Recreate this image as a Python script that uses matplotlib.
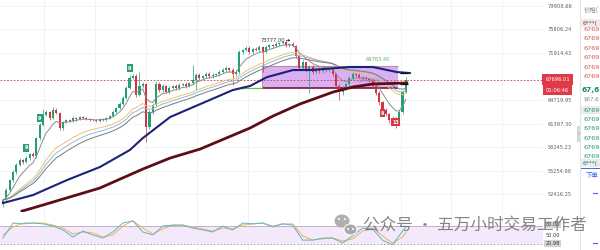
import numpy as np
import pandas as pd
import matplotlib
matplotlib.use("Agg")
import matplotlib.pyplot as plt
from matplotlib.patches import Rectangle, Ellipse
from matplotlib.transforms import blended_transform_factory
from matplotlib.ticker import FixedLocator, NullLocator, FixedFormatter

# ---------------- data ----------------
first_open = 51300
closes = [51770, 52930, 54120, 55110, 55980, 56600, 56350, 56850, 57360, 57110,
          59440, 61200, 62580, 63000, 62160, 63280, 62860, 60790, 61610, 61890,
          61750, 62160, 62020, 62300, 62160, 62020, 61890, 61850, 61750, 62020,
          61890, 62160, 62440, 63000, 63570, 64140, 65000, 66470, 67960, 68270,
          65440, 66770, 67070, 60920, 63000, 63990, 67070, 66170, 66770, 65870,
          66470, 66770, 66470, 66920, 67070, 66770, 67220, 67670, 68420, 67960,
          68270, 68580, 68270, 68420, 68580, 68880, 69190, 69500, 69190, 68580,
          68880, 72030, 72350, 72680, 72030, 72510, 72350, 72840, 72030, 72840,
          73160, 73000, 73330, 73490, 73660, 73160, 73330, 73000, 71390, 69500,
          70440, 69190, 69660, 68880, 69350, 69040, 69500, 69190, 69350, 68580,
          66770, 65870, 66470, 67070, 67960, 68580, 68420, 68110, 67960, 67810,
          67670, 66770, 65720, 64420, 63280, 62720, 61890, 62160, 61750, 63000,
          65870, 67696.01]
wick_up = [150, 200, 150, 250, 200, 300, 150, 200, 150, 250,
           200, 300, 900, 300, 200, 420, 250, 200, 150, 200,
           150, 250, 150, 200, 150, 150, 200, 150, 150, 200,
           150, 200, 150, 250, 200, 250, 300, 250, 400, 300,
           250, 2100, 300, 150, 250, 300, 400, 250, 300, 200,
           250, 200, 250, 300, 200, 250, 200, 2300, 300, 250,
           200, 250, 300, 250, 200, 250, 300, 250, 200, 250,
           300, 250, 200, 300, 250, 200, 300, 250, 200, 300,
           250, 200, 300, 250, 117, 250, 200, 250, 200, 250,
           300, 200, 250, 300, 200, 250, 300, 200, 250, 300,
           200, 250, 300, 200, 250, 300, 200, 250, 200, 250,
           200, 250, 200, 250, 200, 250, 200, 250, 200, 300,
           300, 440]
wick_dn = [300, 200, 150, 200, 250, 150, 200, 150, 200, 150,
           250, 200, 150, 200, 250, 200, 150, 300, 200, 150,
           200, 150, 200, 150, 200, 150, 200, 150, 200, 150,
           200, 150, 200, 150, 200, 150, 200, 150, 200, 150,
           300, 200, 250, 2000, 300, 250, 200, 300, 250, 200,
           250, 200, 300, 250, 200, 250, 200, 300, 1500, 250,
           200, 250, 300, 250, 200, 250, 200, 300, 250, 1660,
           250, 300, 250, 200, 300, 250, 200, 250, 3150, 200,
           250, 300, 200, 250, 200, 300, 250, 200, 300, 250,
           300, 250, 3470, 300, 250, 300, 250, 300, 250, 300,
           300, 1160, 400, 300, 250, 300, 250, 200, 250, 200,
           250, 300, 300, 400, 300, 300, 400, 700, 960, 300,
           300, 200]

ema_spans = [7, 21, 25, 30]

navy_idx = [0, 9, 19.2, 29.1, 38.1, 42, 50.2, 60, 69, 74.2, 79.3, 87.1, 92.2, 104.2, 111.1, 118.3, 122.2]
navy_val = [51420, 52340, 54120, 55720, 57880, 59440, 62300, 64280, 66165, 66770, 68110,
            69190, 69190, 69660, 69660, 68880, 68730]
maroon_idx = [5.7, 12, 29.1, 42, 50.2, 59.2, 74.2, 81.1, 89.2, 99.1, 105.1, 111.1, 121.3]
maroon_val = [50500, 51190, 53170, 55470, 56850, 58000, 60790, 62440, 64140, 65870, 66620, 67070, 67220]

price_ticks = [79908.66, 75806.24, 71914.43, 64719.95, 61397.30, 58245.23, 55254.98, 52416.25]
last_price = 67696.01
countdown = "01:06:46"
zone_top, zone_bot = 69763.45, 66473.85
zone_start, zone_end = 77.8, 118.6
support_start = 70.3
peak_label = "73777.00"

td_green_idx = [7, 11, 38]
td_green_val = [58150, 62160, 69500]
td_red_idx = [114, 118]
td_red_val = [62860, 61610]
td_red_txt = ["9", "13"]

rsi_idx = [0, 3, 6, 9, 12, 15, 18, 21, 24, 27, 30, 33, 36, 39, 42, 45, 48, 51, 54, 57, 60,
           63, 66, 69, 72, 75, 78, 81, 84, 87, 90, 93, 96, 99, 102, 105, 108, 111, 114, 117, 120, 121]
rsi_k = [40, 90, 87, 90, 87, 80, 67, 43, 63, 50, 40, 60, 90, 97, 60, 50, 80, 83, 83, 73,
         67, 60, 80, 67, 90, 87, 90, 77, 87, 83, 33, 33, 40, 40, 23, 47, 73, 70, 33, 17, 63, 77]
rsi_d = [50, 77, 90, 90, 90, 83, 73, 53, 60, 57, 43, 50, 80, 97, 73, 53, 70, 83, 83, 77,
         70, 63, 73, 70, 83, 87, 90, 80, 87, 87, 47, 33, 37, 40, 30, 37, 63, 73, 47, 23, 43, 60]
rsi_levels = [80, 50, 20]
rsi_tags = ["80.00", "50.00", "20.98"]
rsi_tag_vals = [85, 50, 20.98]

asks = ["6769", "6769", "6769", "6769", "6769", "6769"]
bids = ["6769", "6769", "6769", "6769", "6769", "6769"]

# ---------------- style ----------------
GREEN = "#22a072"
RED = "#cf3444"
CJK = ["Noto Sans CJK SC", "DejaVu Sans"]
plt.rcParams["font.family"] = ["DejaVu Sans", "Noto Sans CJK SC"]

fig = plt.figure(figsize=(6, 2.5), dpi=100, facecolor="white")
ax = fig.add_axes([0, 0.152, 0.905, 0.848])
axr = fig.add_axes([0, 0.0, 0.905, 0.152], sharex=ax)

n = len(closes)
x = np.arange(n)
o = np.array([first_open] + closes[:-1], float)
c = np.array(closes, float)
hi = np.maximum(o, c) + np.array(wick_up)
lo = np.minimum(o, c) - np.array(wick_dn)
cols = np.where(c >= o, GREEN, RED)

ax.set_yscale("log")
ax.set_xlim(-0.9, 162.2)
ax.set_ylim(50400, 80900)

# grid
grid_x = [12.3, 27.6, 42.9, 58.2, 73.5, 88.8, 104.1, 119.4, 134.7, 150.0]
for a in (ax, axr):
    a.xaxis.set_major_locator(FixedLocator(grid_x))
    a.tick_params(axis="x", length=0, labelbottom=False)
    a.grid(True, axis="x", color="#eef0f4", lw=0.6)
    for s in a.spines.values():
        s.set_visible(False)
ax.yaxis.set_major_locator(FixedLocator(price_ticks))
ax.yaxis.set_minor_locator(NullLocator())
ax.yaxis.set_major_formatter(FixedFormatter([f"{p:.2f}" for p in price_ticks]))
ax.yaxis.tick_right()
ax.tick_params(axis="y", length=0, pad=3.6, labelsize=3.7, labelcolor="#5d606b")
ax.grid(True, axis="y", color="#f1f2f5", lw=0.6)

# zone
ax.fill_between([zone_start, zone_end], zone_bot, zone_top, color="#dab0f3", lw=0, zorder=2)
ax.hlines(zone_top, zone_start, zone_end, color="#c58aa3", lw=0.8, zorder=3)
ax.hlines(zone_bot, zone_start, zone_end, color="#7a1533", lw=1.2, zorder=3)
ax.vlines(zone_start, zone_bot, zone_top, color="#c58aa3", lw=0.6, zorder=3)
ax.hlines(zone_bot, support_start, zone_start, color="#6cc04a", lw=0.9, zorder=3)

# current price line
ax.axhline(last_price, color="#b8414d", lw=0.6, ls=(0, (2, 2)), zorder=3)

# candles
ax.vlines(x, lo, hi, colors=cols, lw=0.5, zorder=5)
ax.bar(x, np.abs(c - o), bottom=np.minimum(o, c), width=0.62, color=cols, lw=0, zorder=5)

# moving averages
s = pd.Series(c)
ma_cols = ["#8d8d8d", "#f1c36a", "#8fb8e6", "#7a7a7a"]
for sp, mc in zip(ema_spans, ma_cols):
    ax.plot(x, s.ewm(span=sp, adjust=False).mean(), color=mc, lw=0.7, zorder=6)
ax.plot(navy_idx, navy_val, color="#1b2378", lw=1.5, zorder=6)
ax.plot(maroon_idx, maroon_val, color="#5e0d18", lw=2.0, zorder=6)

# end bracket
ax.hlines([68730, 67066], 119.2, 121.6, color="#111111", lw=0.9, zorder=7)

# labels
ax.text(77.3, 73985, peak_label, fontsize=3.7, color="#333333", va="center", ha="left", zorder=8)
ax.annotate("", xy=(87.2, 73930), xytext=(84.3, 73930),
            arrowprops=dict(arrowstyle="-|>", lw=0.5, color="#333333", mutation_scale=3), zorder=8)
ax.text(109, 70900, f"{zone_top:.2f}", fontsize=3.7, color="#5cb85c", va="center", ha="left", zorder=8)
ax.text(106.5, 67550, f"{zone_bot:.2f}", fontsize=3.7, color="#a786c2", va="center", ha="left", zorder=4)

for i, v in zip(td_green_idx, td_green_val):
    ax.text(i, v, "9", fontsize=3.6, color="white", fontweight="bold", ha="center", va="center", zorder=9,
            bbox=dict(boxstyle="square,pad=0.25", fc="#2f9e6e", ec="none"))
for i, v, t in zip(td_red_idx, td_red_val, td_red_txt):
    ax.text(i, v, t, fontsize=3.4, color="white", fontweight="bold", ha="center", va="center", zorder=9,
            bbox=dict(boxstyle="square,pad=0.25", fc="#d23a48", ec="none"))

# price tags
btr = blended_transform_factory(ax.transAxes, ax.transData)
ax.text(1.004, last_price, f"{last_price:.2f}", transform=btr, fontsize=3.7, color="white",
        ha="left", va="center", clip_on=False, zorder=10,
        bbox=dict(boxstyle="square,pad=0.55", fc="#e03a48", ec="none"))
ax.annotate(countdown, xy=(1.004, last_price), xycoords=btr, xytext=(0.6, -7.4), textcoords="offset points",
            fontsize=3.7, color="white", ha="left", va="center", annotation_clip=False, zorder=10,
            bbox=dict(boxstyle="square,pad=0.55", fc="#e03a48", ec="none"))

# RSI panel
axr.set_ylim(0, 126.7)
axr.set_yticks([])
axr.axhspan(rsi_levels[2], rsi_levels[0], color="#f4e8fb", lw=0, zorder=1)
axr.axhline(rsi_levels[0], color="#b9a8c8", lw=0.6, zorder=2)
axr.axhline(rsi_levels[2], color="#9a9a9a", lw=0.6, ls=(0, (2, 2)), zorder=2)
axr.plot(rsi_idx, rsi_d, color="#eab64e", lw=0.7, zorder=3)
axr.plot(rsi_idx, rsi_k, color="#5fb6c9", lw=0.7, zorder=4)
brr = blended_transform_factory(axr.transAxes, axr.transData)
for v, t in zip(rsi_tag_vals, rsi_tags):
    boxed = t != "50.00"
    axr.text(1.004, v, t, transform=brr, fontsize=3.6, color="#333333", ha="left", va="center",
             clip_on=False, zorder=10,
             bbox=dict(boxstyle="square,pad=0.2", fc="#d4d4d4", ec="none") if boxed else None)

# overlay: right panel + watermark
ov = fig.add_axes([0, 0, 1, 1])
ov.set_xlim(0, 600)
ov.set_ylim(250, 0)
ov.axis("off")
ov.patch.set_alpha(0)
ov.plot([580, 580], [0, 250], color="#e4e4e4", lw=0.8)
ov.add_patch(Rectangle((577, 126), 4, 16, fc="#d9d9d9", ec="none"))
ov.text(579, 134, "›", fontsize=4, color="#777777", ha="center", va="center")
ov.text(584, 11, "价格(", fontsize=4.6, color="#888888", family=CJK, va="center")
ov.add_patch(Rectangle((581, 19), 19, 8, fc="#ebebeb", ec="none"))
ov.text(583, 23, "6***(", fontsize=4.3, color="#a03040", va="center")
for k, t in enumerate(asks):
    ov.text(583, 29.5 + 9.4 * k, t, fontsize=4.6, color="#d9534f", va="center")
ov.text(581.5, 90, "67,6", fontsize=5.3, color="#178a5a", fontweight="bold", va="center")
ov.text(583, 99, "$67,6", fontsize=4.0, color="#888888", va="center")
ov.add_patch(Rectangle((581, 106), 19, 8, fc="#ebebeb", ec="none"))
for k, t in enumerate(bids):
    ov.text(583, 110 + 9.4 * k, t, fontsize=4.6, color="#1f9a6a", va="center")
ov.add_patch(Rectangle((581, 159), 19, 8, fc="#ebebeb", ec="none"))
ov.text(583, 163, "6***(", fontsize=4.3, color="#1f7a6a", va="center")
ov.plot([581, 600], [167.5, 167.5], color="#3a6fd8", lw=0.7)
ov.text(586, 175, "下单", fontsize=4.6, color="#2962ff", family=CJK, va="center")
ov.plot([593, 597], [193, 193], color="#3a6fd8", lw=0.8)
ov.plot([593, 597], [243, 243], color="#3a6fd8", lw=0.8)

# watermark
ov.add_patch(Ellipse((342, 221), 15, 13, fc="#a6a6a6", ec="none", alpha=0.9, zorder=20))
ov.add_patch(Ellipse((350.5, 229.5), 13, 11, fc="#a6a6a6", ec="white", lw=0.8, alpha=0.95, zorder=21))
for ex, ey in [(339, 219), (345, 219), (348, 229), (353, 229)]:
    ov.add_patch(Ellipse((ex, ey), 2, 2, fc="white", ec="none", zorder=22))
ov.text(363, 226, "公众号 · 五万小时交易工作者", fontsize=12, color="#727272", alpha=0.85,
        family=CJK, ha="left", va="center", zorder=23)

fig.savefig("out.png", dpi=100, facecolor="white")
